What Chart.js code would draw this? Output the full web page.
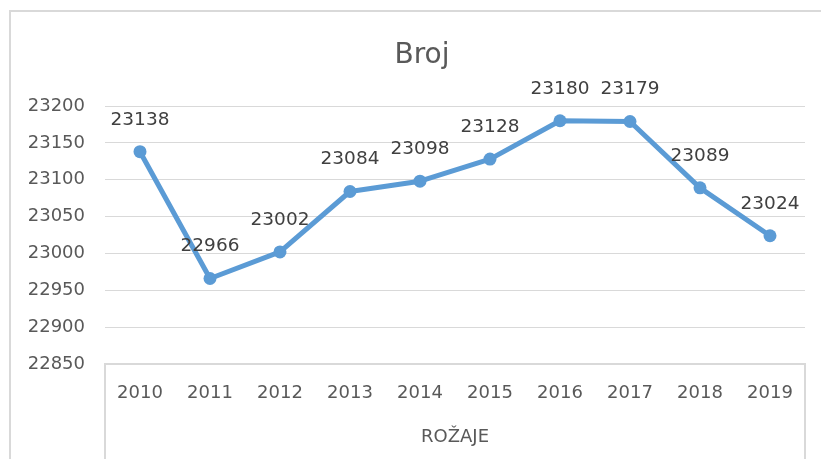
<!DOCTYPE html>
<html>
<head>
<meta charset="utf-8">
<script src="https://cdn.jsdelivr.net/npm/chart.js@4"></script>
<style>
  html, body { margin: 0; padding: 0; background: #fff; overflow: hidden; }
  canvas { display: block; }
</style>
</head>
<body>
<canvas id="c" width="821" height="459"></canvas>
<script>
const categories = ['2010', '2011', '2012', '2013', '2014', '2015', '2016', '2017', '2018', '2019'];
const values = [23138, 22966, 23002, 23084, 23098, 23128, 23180, 23179, 23089, 23024];
const chartTitle = 'Broj';
const groupLabel = 'ROŽAJE';
const yMin = 22850, yMax = 23200, yStep = 50;

const FONT = 'DejaVu Sans';

const framePlugin = {
  id: 'frame',
  beforeDraw(chart) {
    const ctx = chart.ctx;
    ctx.save();
    ctx.fillStyle = '#fff';
    ctx.fillRect(0, 0, chart.width, chart.height);
    ctx.fillStyle = '#d9d9d9';
    ctx.fillRect(9, 10, 2, chart.height - 10);
    ctx.fillRect(9, 10, chart.width - 9, 2);
    ctx.restore();
  }
};

const titlePlugin = {
  id: 'customTitle',
  afterDraw(chart) {
    const ctx = chart.ctx;
    ctx.save();
    ctx.font = '28px "' + FONT + '"';
    ctx.fillStyle = '#595959';
    ctx.textAlign = 'center';
    ctx.textBaseline = 'alphabetic';
    ctx.fillText(chartTitle, 422, 63);
    ctx.restore();
  }
};

const labelPlugin = {
  id: 'pointLabels',
  afterDatasetsDraw(chart) {
    const ctx = chart.ctx;
    const meta = chart.getDatasetMeta(0);
    ctx.save();
    ctx.font = '18.5px "' + FONT + '"';
    ctx.fillStyle = '#404040';
    ctx.textAlign = 'center';
    ctx.textBaseline = 'middle';
    meta.data.forEach((pt, i) => {
      ctx.fillText(String(values[i]), pt.x, pt.y - 32);
    });
    ctx.restore();
  }
};

const boxPlugin = {
  id: 'catBox',
  afterDraw(chart) {
    const ctx = chart.ctx;
    const a = chart.chartArea;
    ctx.save();
    ctx.fillStyle = '#d9d9d9';
    ctx.fillRect(a.left - 1, a.bottom, 2, chart.height - a.bottom);
    ctx.fillRect(a.right - 1, a.bottom, 2, chart.height - a.bottom);
    ctx.restore();
  }
};

new Chart(document.getElementById('c'), {
  type: 'line',
  data: {
    labels: categories,
    datasets: [{
      data: values,
      borderColor: '#5B9BD5',
      backgroundColor: '#5B9BD5',
      borderWidth: 5,
      pointRadius: 6.5,
      pointHoverRadius: 6.5,
      pointBackgroundColor: '#5B9BD5',
      pointBorderColor: '#5B9BD5',
      pointBorderWidth: 0,
      borderCapStyle: 'round',
      borderJoinStyle: 'round',
      tension: 0,
      clip: false
    }]
  },
  options: {
    responsive: false,
    animation: false,
    layout: { padding: { left: 0, right: 16, top: 106, bottom: 0 } },
    plugins: {
      legend: { display: false },
      tooltip: { enabled: false },
      title: { display: false }
    },
    scales: {
      x: {
        offset: true,
        grid: { display: false, drawTicks: false },
        border: { display: true, color: '#d9d9d9', width: 2 },
        ticks: {
          color: '#595959',
          font: { family: FONT, size: 18 },
          padding: 19,
          maxRotation: 0,
          autoSkip: false
        },
        title: {
          display: true,
          text: groupLabel,
          color: '#595959',
          font: { family: FONT, size: 18, lineHeight: 1.2 },
          padding: { top: 0, bottom: 11 }
        },
        afterFit(scale) { scale.height = 95; }
      },
      y: {
        min: yMin,
        max: yMax,
        grid: { color: '#d9d9d9', lineWidth: 1, drawTicks: false },
        border: { display: false },
        ticks: {
          stepSize: yStep,
          color: '#595959',
          font: { family: FONT, size: 18 },
          padding: 20,
          callback: (v) => String(v)
        },
        afterFit(scale) { scale.width = 105; }
      }
    }
  },
  plugins: [framePlugin, labelPlugin, boxPlugin, titlePlugin]
});
</script>
</body>
</html>
